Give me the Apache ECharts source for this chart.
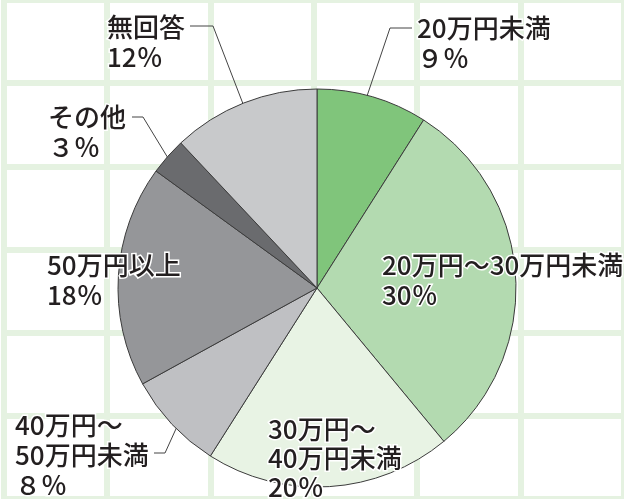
<!DOCTYPE html>
<html>
<head>
<meta charset="utf-8">
<script src="https://cdn.jsdelivr.net/npm/echarts@6/dist/echarts.min.js"></script>
<style>
  html, body { margin: 0; padding: 0; background: #fff; }
  #chart { width: 624px; height: 499px; }
</style>
</head>
<body>
<div id="chart"></div>
<script>
// 区分と割合（％）
const categories = ["20万円未満", "20万円～30万円未満", "30万円～40万円未満", "40万円～50万円未満", "50万円以上", "その他", "無回答"];
const labelNames = ["20万円未満", "20万円～30万円未満", "30万円～\n40万円未満", "40万円～\n50万円未満", "50万円以上", "その他", "無回答"];
const percents = [9, 30, 20, 8, 18, 3, 12];
const colors = ["#80c57b", "#b3dab0", "#e8f3e4", "#bfc0c3", "#959699", "#6a6b6e", "#c8c9cb"];

// ラベル位置（左上）と引出線
const labelPos = [
  [417, 13], [382, 250], [268, 415], [15, 410], [47, 250], [48, 102], [107, 12]
];
const leaderLines = {
  0: [[365, 102], [390, 28], [412, 28]],
  3: [[180, 420], [165, 453], [154, 453]],
  5: [[171, 163], [143, 117], [132, 117]],
  6: [[245, 109], [213, 26], [190, 26]],
};

const fullDigits = "０１２３４５６７８９";
function pctText(v) {
  const s = v < 10 ? fullDigits[v] : String(v);
  return s + "％";
}

const chart = echarts.init(document.getElementById("chart"));

const option = {
  animation: false,
  backgroundColor: "#fff",
  grid: { left: 3.5, top: -36.8, width: 625.8, height: 598.8, containLabel: false },
  xAxis: {
    type: "value", min: 0, max: 6, interval: 1,
    axisLine: { show: false }, axisTick: { show: false }, axisLabel: { show: false },
    splitLine: { show: true, lineStyle: { color: "#e5f2e1", width: 6 } },
  },
  yAxis: {
    type: "value", min: 0, max: 6, interval: 1,
    axisLine: { show: false }, axisTick: { show: false }, axisLabel: { show: false },
    splitLine: { show: true, lineStyle: { color: "#e5f2e1", width: 6 } },
  },
  series: [
    {
      type: "pie",
      center: [317, 288],
      radius: 199,
      startAngle: 90,
      clockwise: true,
      avoidLabelOverlap: false,
      silent: true,
      itemStyle: { borderColor: "#3c3c3c", borderWidth: 1 },
      label: {
        show: true,
        position: "outside",
        formatter: (p) => labelNames[p.dataIndex] + "\n" + pctText(p.value),
        fontFamily: "Noto Sans CJK JP",
        fontSize: 26,
        fontWeight: 500,
        lineHeight: 30,
        color: "#231f20",
        textBorderColor: "#fff",
        textBorderWidth: 3,
        align: "left",
      },
      labelLine: { show: true, lineStyle: { color: "#444", width: 1 } },
      labelLayout: (params) => {
        const i = params.dataIndex;
        const res = {
          x: labelPos[i][0],
          y: labelPos[i][1],
          align: "left",
          verticalAlign: "top",
        };
        if (leaderLines[i]) res.labelLinePoints = leaderLines[i];
        return res;
      },
      data: categories.map((c, i) => ({
        name: c,
        value: percents[i],
        itemStyle: { color: colors[i] },
        labelLine: { show: !!leaderLines[i] },
        label: i === 2 ? { lineHeight: 29 } : {},
      })),
    },
  ],
};

chart.setOption(option);
</script>
</body>
</html>
